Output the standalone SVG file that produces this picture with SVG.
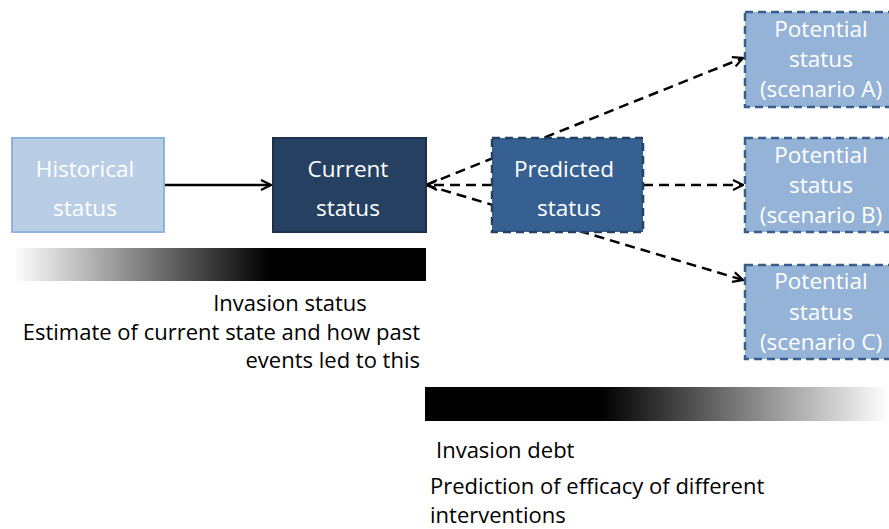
<svg xmlns="http://www.w3.org/2000/svg" width="889" height="529" viewBox="0 0 889 529">
<style>
text{font-family:"Open Sans","Liberation Sans",sans-serif;}
.nt{fill:#ffffff;font-size:22.5px;text-anchor:middle;}
.lt{fill:#000000;font-size:22px;}
.pot rect{fill:#95b3d7;stroke:#385d8a;stroke-width:2.5;stroke-dasharray:8,5;}
.con{fill:none;stroke:#000;stroke-width:2.5;}
.dash{stroke-dasharray:10,6;}
</style>
<defs>
<marker id="ah" viewBox="0 0 12 12" refX="11" refY="6" markerWidth="12" markerHeight="12" markerUnits="userSpaceOnUse" orient="auto">
<path d="M1,1 L11,6 L1,11" fill="none" stroke="#000" stroke-width="2.2"/>
</marker>
<linearGradient id="g1" x1="0" x2="1" y1="0" y2="0">
<stop offset="0" stop-color="#ffffff"/>
<stop offset="0.62" stop-color="#000000"/>
<stop offset="1" stop-color="#000000"/>
</linearGradient>
<linearGradient id="g2" x1="0" x2="1" y1="0" y2="0">
<stop offset="0" stop-color="#000000"/>
<stop offset="0.38" stop-color="#000000"/>
<stop offset="1" stop-color="#ffffff"/>
</linearGradient>
</defs>
<g id="bars">
<rect x="14" y="248" width="412" height="33" fill="url(#g1)"/>
<rect x="425" y="387" width="464" height="34" fill="url(#g2)"/>
</g>
<g id="connectors">
<line class="con" x1="164" y1="185" x2="271" y2="185" marker-end="url(#ah)"/>
<line class="con dash" x1="426" y1="185" x2="743" y2="58" marker-end="url(#ah)"/>
<line class="con dash" x1="426" y1="185" x2="743" y2="280" marker-end="url(#ah)"/>
<line class="con dash" x1="492" y1="185" x2="427" y2="185" marker-end="url(#ah)"/>
<line class="con dash" x1="643" y1="185" x2="743" y2="185" marker-end="url(#ah)"/>
</g>
<g id="historical">
<rect x="12" y="138" width="152" height="94" fill="#b9cde5" stroke="#8eb4e3" stroke-width="2"/>
<text class="nt" x="85" y="177">Historical</text>
<text class="nt" x="85" y="216">status</text>
</g>
<g id="current">
<rect x="273" y="138" width="153" height="94" fill="#254061" stroke="#1c304a" stroke-width="2"/>
<text class="nt" x="348" y="177">Current</text>
<text class="nt" x="348" y="216">status</text>
</g>
<g id="predicted">
<rect x="492" y="138" width="151" height="94" fill="#376092" stroke="#254061" stroke-width="2.5" stroke-dasharray="8,5"/>
<text class="nt" x="564" y="177">Predicted</text>
<text class="nt" x="569" y="216">status</text>
</g>
<g id="potentialA" class="pot">
<rect x="745" y="12" width="150" height="95"/>
<text class="nt" x="821" y="37">Potential</text>
<text class="nt" x="821" y="67">status</text>
<text class="nt" x="821" y="97">(scenario A)</text>
</g>
<g id="potentialB" class="pot">
<rect x="745" y="138" width="150" height="94"/>
<text class="nt" x="821" y="163">Potential</text>
<text class="nt" x="821" y="193">status</text>
<text class="nt" x="821" y="223">(scenario B)</text>
</g>
<g id="potentialC" class="pot">
<rect x="745" y="265" width="150" height="94"/>
<text class="nt" x="821" y="289">Potential</text>
<text class="nt" x="821" y="320">status</text>
<text class="nt" x="821" y="350">(scenario C)</text>
</g>
<g id="labels">
<text class="lt" x="290" y="311" text-anchor="middle">Invasion status</text>
<text class="lt" x="420" y="340" text-anchor="end">Estimate of current state and how past</text>
<text class="lt" x="420" y="368" text-anchor="end">events led to this</text>
<text class="lt" x="436" y="458">Invasion debt</text>
<text class="lt" x="430" y="494">Prediction of efficacy of different</text>
<text class="lt" x="430" y="523">interventions</text>
</g>
</svg>
